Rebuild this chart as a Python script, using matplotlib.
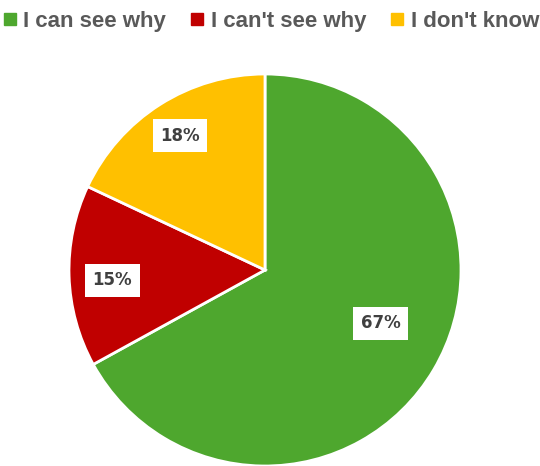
import numpy as np
import matplotlib.pyplot as plt
from matplotlib.lines import Line2D

labels = ["I can see why", "I can't see why", "I don't know"]
shares = [67, 15, 18]
colors = ["#4ea72e", "#c00000", "#ffc000"]
# distance of each percentage box from the centre, as a fraction of the radius
label_r = [0.65, 0.78, 0.81]
label_shift = [6, 2, 0]  # degrees

fig = plt.figure(figsize=(5.4, 4.66), dpi=100)
ax = fig.add_axes([69 / 540, 0, 392 / 540, 392 / 466])

wedges, _ = ax.pie(shares, colors=colors, startangle=90, counterclock=False,
                   wedgeprops=dict(edgecolor="white", linewidth=2))
ax.set_xlim(-1, 1)
ax.set_ylim(-1, 1)
ax.set_aspect("equal")

for w, val, r, d in zip(wedges, shares, label_r, label_shift):
    mid = np.deg2rad((w.theta1 + w.theta2) / 2 + d)
    ax.text(r * np.cos(mid), r * np.sin(mid), f"{val}%", ha="center", va="center",
            fontsize=12, fontweight="bold", color="#404040",
            bbox=dict(boxstyle="square,pad=0.45", fc="white", ec="none"))

handles = [Line2D([], [], marker="s", linestyle="none", markersize=8,
                  markerfacecolor=c, markeredgecolor=c) for c in colors]
fig.legend(handles, labels, loc="upper center", bbox_to_anchor=(0.5, 1.02), ncol=3,
           frameon=False, handletextpad=0.2, columnspacing=1.0, handlelength=0.8,
           prop=dict(family="Liberation Sans", weight="bold", size=16),
           labelcolor="#595959")

fig.savefig("out.png", dpi=100)
